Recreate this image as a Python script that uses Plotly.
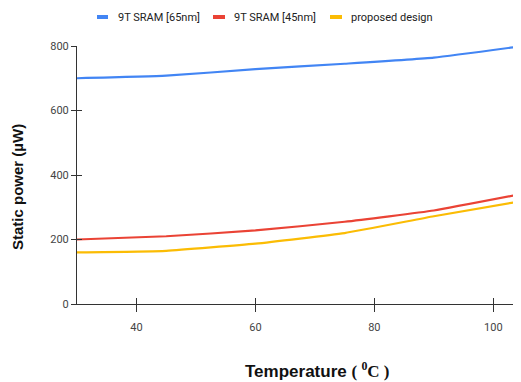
import plotly.graph_objects as go

temps = [30, 45, 60, 75, 90, 105]
sram65 = [700, 708, 728, 745, 764, 800]
sram45 = [200, 210, 228, 255, 290, 342]
proposed = [160, 165, 187, 220, 272, 320]
names = ["9T SRAM [65nm]", "9T SRAM [45nm]", "proposed design"]
colors = ["#4285F4", "#EA4335", "#FBBC04"]
y_ticks = [0, 200, 400, 600, 800]
x_ticks = [40, 60, 80, 100]

OFF = 8  # page body margin
W, H = 521 - OFF, 382 - OFF
L, R, T = 77 - OFF, 0, 46 - OFF
B = H - (304 - OFF)
PW, PH = W - L - R, H - T - B
X_END = 30 + 70 * PW / (493.3 - 77)

def px(x):
    return (x - OFF - L) / PW

def py(y):
    return (H - B - (y - OFF)) / PH

fig = go.Figure()
for name, vals, c in zip(names, [sram65, sram45, proposed], colors):
    fig.add_trace(go.Scatter(x=temps, y=vals, name=name, mode="lines",
                             line=dict(color=c, width=2.2, shape="spline", smoothing=0.4),
                             showlegend=False))

fig.add_trace(go.Scatter(x=[30], y=[0], xaxis="x2", yaxis="y2", mode="markers",
                         marker=dict(opacity=0), showlegend=False, hoverinfo="skip"))

tickfont = dict(family="Roboto", size=11, color="#444")
fig.update_layout(
    width=W, height=H,
    margin=dict(l=L, r=R, t=T, b=B),
    paper_bgcolor="white", plot_bgcolor="white",
    xaxis=dict(range=[30, X_END], tickvals=x_ticks, ticks="outside", ticklen=7,
               tickcolor="#333", showline=True, linecolor="#333", linewidth=1,
               showgrid=False, zeroline=False, tickfont=tickfont, ticklabelstandoff=6),
    yaxis=dict(range=[0, 800], tickvals=y_ticks, ticks="outside", ticklen=5,
               tickcolor="#333", showline=True, linecolor="#333", linewidth=1,
               showgrid=False, zeroline=False, tickfont=tickfont),
    xaxis2=dict(range=[30, X_END], tickvals=x_ticks, ticks="inside", ticklen=6,
                tickcolor="#333", overlaying="x", showticklabels=False,
                showgrid=False, zeroline=False, showline=False),
    yaxis2=dict(range=[0, 800], tickvals=y_ticks, ticks="inside", ticklen=5,
                tickcolor="#333", overlaying="y", showticklabels=False,
                showgrid=False, zeroline=False, showline=False),
)

leg_samples = [(97, 108), (213, 225), (330, 342)]
leg_text_x = [116, 232, 349]
leg_y = 17
for (x0, x1), tx, name, c in zip(leg_samples, leg_text_x, names, colors):
    fig.add_shape(type="line", xref="paper", yref="paper", x0=px(x0), x1=px(x1),
                  y0=py(leg_y), y1=py(leg_y), line=dict(color=c, width=4))
    fig.add_annotation(xref="paper", yref="paper", x=px(tx), y=py(leg_y), text=name,
                       showarrow=False, xanchor="left", yanchor="middle",
                       font=dict(family="Roboto", size=11, color="#222"))

fig.add_annotation(xref="paper", yref="paper", x=px(17), y=py(187),
                   text="<b>Static power (µW)</b>", textangle=-90, showarrow=False,
                   xanchor="center", yanchor="middle",
                   font=dict(family="Liberation Sans, Arial, sans-serif", size=15, color="#111"))
fig.add_annotation(xref="paper", yref="paper", x=px(317), y=py(370),
                   text="<b>Temperature</b> <span style='font-family:Liberation Serif'><b>( <sup>0</sup>C )</b></span>",
                   showarrow=False, xanchor="center", yanchor="middle",
                   font=dict(family="Liberation Sans Narrow, Liberation Sans, sans-serif", size=17, color="#111"))

fig.write_html("out.html")
